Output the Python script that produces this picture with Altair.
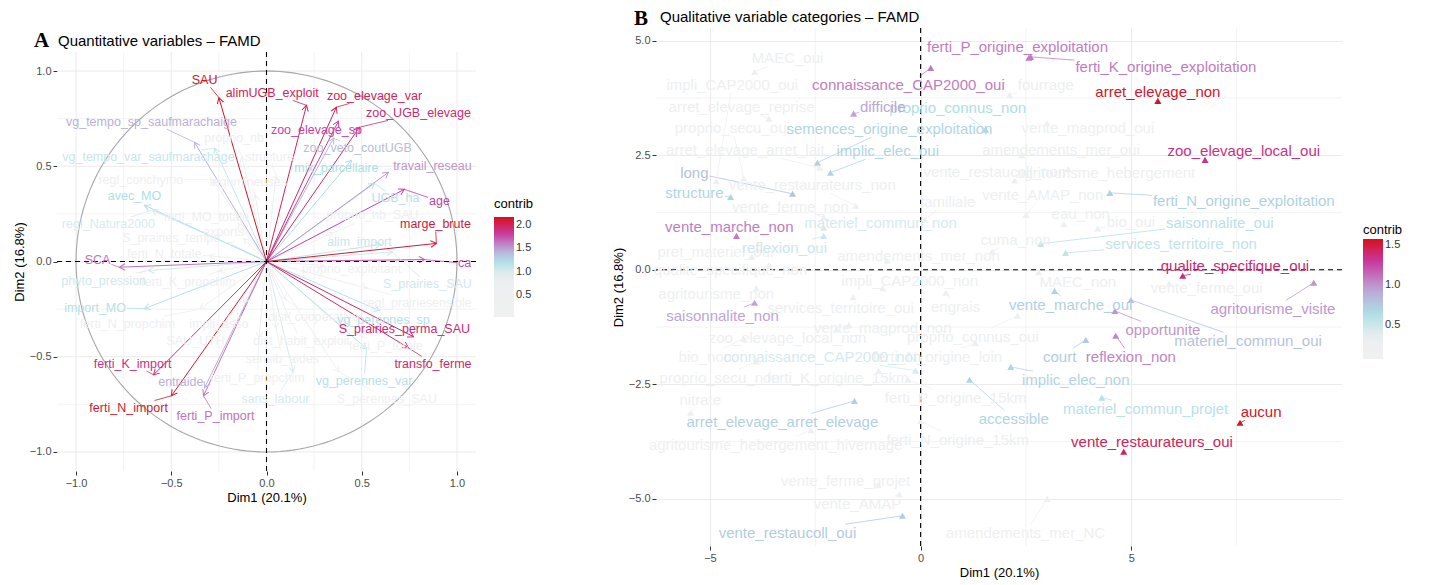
import math
import altair as alt
import pandas as pd

FONT = "Liberation Sans"

# ---------------- Panel A : quantitative variables ----------------
a_names = ["SAU", "alimUGB_exploit", "zoo_elevage_var", "zoo_UGB_elevage", "zoo_elevage_sp",
           "zoo_veto_coutUGB", "mix_parcellaire", "travail_reseau", "UGB_ha", "age",
           "marge_brute", "alim_import", "ca", "S_prairies_SAU", "regl_prairiesensible",
           "vg_perennes_sp", "S_prairies_perma_SAU", "transfo_ferme", "ferti_P_totale",
           "vg_perennes_var", "S_perennes_SAU", "sans_labour", "ferti_P_import", "entraide",
           "ferti_N_import", "ferti_K_import", "SCA", "phyto_pression", "import_MO", "avec_MO",
           "regl_Natura2000", "vg_tempo_sp_saufmarachaige", "vg_tempo_var_saufmarachage",
           "proprio_nb", "structure", "regl_conchymo", "legumineuses", "ferti_MO_totale",
           "S_prairies_tempo", "exports", "ferti_N_totale", "ferti_K_propchim", "ferti_N_propchim",
           "impli_asso", "SAU_UTH", "dist_habit_exploit", "dist_cooperative", "sensib_aides",
           "ferti_P_propchim", "proprio_exploitant", "proprio_nb_SAU"]
a_x = [-0.25, 0.21, 0.367, 0.488, 0.378, 0.352, 0.446, 0.64, 0.567, 0.724,
       0.892, 0.60, 0.83, 0.66, 0.53, 0.593, 0.772, 0.745, 0.42, 0.525,
       0.38, 0.14, -0.331, -0.325, -0.499, -0.593, -0.772, -0.62, -0.64, -0.64,
       -0.60, -0.378, -0.273, -0.13, 0.05, -0.28, -0.06, -0.15, -0.2, -0.12,
       -0.3, -0.25, -0.35, -0.12, -0.15, 0.12, 0.1, 0.05, -0.04, 0.3, 0.35]
a_y = [0.86, 0.82, 0.81, 0.705, 0.737, 0.647, 0.532, 0.468, 0.41, 0.379,
       0.095, 0.09, 0.01, 0.05, -0.14, -0.258, -0.395, -0.453, -0.36, -0.458,
       -0.58, -0.58, -0.705, -0.663, -0.705, -0.595, -0.03, -0.047, -0.247, 0.295,
       0.27, 0.626, 0.595, 0.55, 0.45, 0.43, 0.35, 0.2, 0.1, 0.12,
       0.03, -0.05, -0.25, -0.22, -0.3, -0.3, -0.2, -0.35, -0.4, -0.02, 0.15]
a_lx = [-0.325, 0.03, 0.567, 0.798, 0.262, 0.478, 0.367, 0.871, 0.677, 0.908,
        0.887, 0.488, 1.04, 0.845, 0.793, 0.614, 0.724, 0.874, 0.627, 0.512,
        0.632, 0.047, -0.268, -0.45, -0.724, -0.703, -0.887, -0.855, -0.90, -0.693,
        -0.83, -0.604, -0.62, -0.17, 0.016, -0.66, -0.095, -0.315, -0.5, -0.226,
        -0.537, -0.41, -0.73, -0.25, -0.373, 0.184, 0.247, 0.084, -0.047, 0.446, 0.556]
a_ly = [0.953, 0.884, 0.868, 0.779, 0.689, 0.595, 0.489, 0.5, 0.332, 0.316,
        0.195, 0.105, -0.01, -0.116, -0.216, -0.305, -0.353, -0.537, -0.442, -0.626,
        -0.721, -0.721, -0.81, -0.632, -0.768, -0.537, 0.01, -0.1, -0.242, 0.342,
        0.195, 0.732, 0.547, 0.647, 0.547, 0.43, 0.416, 0.232, 0.121, 0.153,
        0.042, -0.11, -0.326, -0.326, -0.416, -0.416, -0.289, -0.51, -0.61, -0.042, 0.242]
a_contrib = [2.15, 2.0, 2.0, 1.95, 1.8, 1.4, 1.25, 1.55, 1.2, 1.8,
             2.1, 1.1, 1.75, 1.05, 0.45, 1.2, 1.95, 1.95, 0.45, 1.2,
             0.35, 1.0, 1.65, 1.45, 2.1, 1.9, 1.65, 1.05, 1.2, 1.25,
             1.0, 1.45, 1.1, 0.85, 0.7, 0.5, 0.5, 0.5, 0.5, 0.45,
             0.5, 0.5, 0.5, 0.45, 0.45, 0.5, 0.45, 0.45, 0.45, 0.5, 0.5]

# ---------------- Panel B : qualitative categories ----------------
b_names = ["ferti_P_origine_exploitation", "ferti_K_origine_exploitation", "connaissance_CAP2000_oui",
           "arret_elevage_non", "difficile", "proprio_connus_non", "semences_origine_exploitation",
           "implic_elec_oui", "long", "structure", "zoo_elevage_local_oui", "ferti_N_origine_exploitation",
           "saisonnalite_oui", "services_territoire_non", "vente_marche_non", "reflexion_oui",
           "materiel_commun_non", "qualite_specifique_oui", "agritourisme_visite", "saisonnalite_non",
           "vente_marche_oui", "opportunite", "reflexion_non", "materiel_commun_oui", "court",
           "implic_elec_non", "accessible", "materiel_commun_projet", "aucun", "vente_restaurateurs_oui",
           "arret_elevage_arret_elevage", "vente_restaucoll_oui", "connaissance_CAP2000_non",
           "MAEC_oui", "impli_CAP2000_oui", "arret_elevage_reprise", "proprio_secu_oui",
           "arret_elevage_arret_lait", "vente_restaurateurs_non", "vente_ferme_non", "vente_restaucoll_non",
           "vente_AMAP_non", "familiale", "agritourisme_hebergement", "amendements_mer_oui",
           "vente_magprod_oui", "fourrage", "bio_oui", "eau_non", "cuma_non", "pret_materiel_oui",
           "qualite_specifique_non", "agritourisme_non", "services_territoire_oui", "amendements_mer_non",
           "engrais", "vente_magprod_non", "proprio_connus_oui", "zoo_elevage_local_non", "bio_non",
           "proprio_secu_non", "ferti_K_origine_15km", "ferti_P_origine_15km", "nitrate",
           "agritourisme_hebergement_hivernage", "ferti_N_origine_15km", "vente_ferme_projet",
           "vente_AMAP", "amendements_mer_NC", "vente_ferme_oui", "MAEC_non", "ferti_N_origine_loin",
           "impli_CAP2000_non"]
b_x = [2.57, 2.61, 0.24, 5.63, -1.59, 1.54, -2.45, -2.14, -3.04, -4.51, 6.75, 4.49,
       2.85, 3.44, -4.37, -2.3, -2.3, 6.22, 9.33, -3.94, 3.18, 4.61, 4.63, 4.99, 3.92,
       2.14, 1.16, 4.3, 7.58, 4.82, -1.57, -0.43, -0.12,
       -3.94, -4.85, -3.6, -4.2, -2.4, -1.54, -2.3, 2.23, 2.5, 0.1, 3.5, 2.4,
       3.0, 2.11, 4.2, 3.4, 1.7, -4.0, -3.6, -3.9, -1.6, -0.8,
       0.6, -1.7, 2.3, -2.0, -4.2, -3.9, -1.0, -0.3, -5.46,
       -2.6, 0.0, -1.0, -0.5, 3.0, 5.9, 2.8, 1.3, -0.9]
b_y = [4.63, 4.65, 4.41, 3.69, 3.41, 3.06, 2.34, 2.12, 1.66, 1.59, 2.4, 1.68,
       0.57, 0.37, 0.74, 0.74, 0.92, -0.13, -0.28, -0.72, -0.46, -0.9, -1.44, -0.66, -1.53,
       -2.12, -2.4, -2.79, -3.34, -3.97, -2.86, -5.37, -2.2,
       4.32, 1.94, 3.3, 2.0, 2.23, 1.4, 1.15, 1.95, 1.2, 1.09, 2.2, 2.5,
       3.2, 3.82, 0.9, 1.0, 0.4, 0.3, 0.1, -0.4, -0.6, 0.2,
       -0.5, -1.2, -1.0, -1.3, -1.5, -2.0, -2.2, -2.4, -3.12,
       -3.5, -3.3, -4.7, -4.9, -5.0, -0.3, -0.05, -1.6, -0.4]
b_lx = [2.30, 5.82, -0.29, 5.63, -0.9, 0.88, -0.74, -0.78, -5.37, -5.37, 7.67, 7.67,
        7.1, 6.18, -4.54, -3.23, -0.95, 7.46, 8.36, -4.7, 3.56, 5.75, 4.99, 7.77, 3.3,
        3.68, 2.21, 5.34, 8.08, 5.49, -3.28, -3.16, -2.33,
        -3.16, -4.47, -4.25, -4.47, -4.16, -2.57, -3.09, 1.76, 2.9, 0.64, 4.39, 3.33,
        3.97, 2.97, 4.99, 3.8, 2.26, -4.87, -4.51, -4.85, -1.9, -0.05,
        0.83, -0.9, 1.24, -3.16, -5.11, -4.77, -1.97, 0.83, -5.23,
        -3.44, 0.88, -1.78, -1.5, 2.49, 6.79, 3.73, 0.4, -0.26]
b_ly = [4.87, 4.43, 4.04, 3.89, 3.56, 3.54, 3.08, 2.6, 2.12, 1.68, 2.6, 1.51,
        1.03, 0.57, 0.94, 0.48, 1.03, 0.09, -0.85, -1.0, -0.76, -1.31, -1.9, -1.55, -1.9,
        -2.4, -3.25, -3.03, -3.1, -3.76, -3.32, -5.74, -1.9,
        4.63, 4.04, 3.56, 3.1, 2.62, 1.86, 1.38, 2.14, 1.64, 1.48, 2.12, 2.62,
        3.1, 4.04, 1.05, 1.22, 0.66, 0.39, 0.0, -0.52, -0.83, 0.31,
        -0.81, -1.27, -1.46, -1.48, -1.9, -2.36, -2.36, -2.79, -2.84,
        -3.82, -3.71, -4.61, -5.11, -5.74, -0.39, -0.26, -1.9, -0.24]
b_contrib = [1.08, 1.08, 1.08, 1.55, 0.95, 0.65, 0.7, 0.7, 0.8, 0.7, 1.35, 0.72,
             0.6, 0.55, 1.08, 0.5, 0.45, 1.4, 1.0, 0.95, 0.72, 1.0, 1.05, 0.8, 0.75,
             0.7, 0.7, 0.6, 1.55, 1.45, 0.72, 0.75, 0.45,
             0.25, 0.22, 0.2, 0.22, 0.25, 0.3, 0.3, 0.3, 0.3, 0.25, 0.25, 0.25,
             0.2, 0.3, 0.25, 0.2, 0.25, 0.2, 0.3, 0.2, 0.25, 0.2,
             0.25, 0.25, 0.25, 0.3, 0.2, 0.2, 0.25, 0.25, 0.2,
             0.2, 0.25, 0.2, 0.2, 0.2, 0.3, 0.3, 0.3, 0.3]

# axis ticks / grid positions
a_major = [-1.0, -0.5, 0.0, 0.5, 1.0]
a_minor = [-0.75, -0.25, 0.25, 0.75]
b_xmajor = [-5, 0, 5]
b_xminor = [-2.5, 2.5, 7.5]
b_ymajor = [-5.0, -2.5, 0.0, 2.5, 5.0]
b_yminor = [-3.75, -1.25, 1.25, 3.75]

# ---------------- layout constants ----------------
A_W, A_H, A_TOP = 419, 443, 24          # panel A drawn lower than panel B by A_TOP px
A_XD, A_YD = [-1.1, 1.1], [-1.1, 1.1]
B_W, B_H = 686, 518
B_XD, B_YD = [-6.28, 10.0], [-6.03, 5.28]
A_FS, B_FS = 12.5, 15

CW = {'i': .222, 'l': .222, 'j': .222, 'f': .278, 't': .278, 'r': .333, 'm': .833, 'w': .722,
      'c': .5, 's': .5, 'v': .5, 'x': .5, 'k': .5, 'y': .5, 'z': .5, 'A': .667, 'B': .667,
      'C': .722, 'D': .722, 'M': .833, 'N': .722, 'O': .778, 'P': .667, 'S': .667, 'U': .722,
      'G': .778, 'H': .722, 'K': .667, 'T': .611, 'E': .667, 'F': .611, 'V': .667, 'I': .278}


def text_w(s, fs):
    return sum(CW.get(c, 0.556) for c in s) * fs


def segments(names, px, py, lx, ly, contrib, fs, sx, sy):
    rows = []
    for n, x, y, a, b, c in zip(names, px, py, lx, ly, contrib):
        dx, dy = (x - a) * sx, (y - b) * sy
        hw, hh = text_w(n, fs) / 2 + 1, fs * 0.5 + 1
        if abs(dx) <= hw and abs(dy) <= hh:
            continue
        t = min(hw / abs(dx) if dx else 1e9, hh / abs(dy) if dy else 1e9)
        dist = (1 - t) * math.hypot(dx, dy)
        if dist < 5:
            continue
        rows.append({"x": x, "y": y, "ex": a + dx * t / sx, "ey": b + dy * t / sy, "contrib": c})
    return pd.DataFrame(rows)


dfA = pd.DataFrame({"name": a_names, "x": a_x, "y": a_y, "lx": a_lx, "ly": a_ly,
                    "contrib": a_contrib}).sort_values("contrib")
dfB = pd.DataFrame({"name": b_names, "x": b_x, "y": b_y, "lx": b_lx, "ly": b_ly,
                    "contrib": b_contrib}).sort_values("contrib")
segA = segments(a_names, a_x, a_y, a_lx, a_ly, a_contrib, A_FS,
                A_W / (A_XD[1] - A_XD[0]), (A_H - A_TOP) / (A_YD[1] - A_YD[0]))
segB = segments(b_names, b_x, b_y, b_lx, b_ly, b_contrib, B_FS,
                B_W / (B_XD[1] - B_XD[0]), B_H / (B_YD[1] - B_YD[0]))

RANGE = ["#f0f0f0", "#eceff0", "#acdfe5", "#bda4d6", "#c8389e", "#d7101a"]
A_DOM = [0.04, 0.9, 1.25, 1.5, 1.82, 2.17]
B_DOM = [0.08, 0.35, 0.65, 0.95, 1.3, 1.58]
# stroke scales: same colours, domain nudged by a negligible amount so that Vega-Lite
# keeps the (hidden) stroke legend separate from the fill legend
A_DOM_S = [v + 1e-6 for v in A_DOM]
B_DOM_S = [v + 1e-6 for v in B_DOM]


def legA():
    return alt.Legend(type="gradient", title="contrib", orient="none",
                      legendX=437, legendY=170, direction="vertical",
                      gradientLength=100, gradientThickness=20,
                      values=[0.5, 1.0, 1.5, 2.0], format=".1f")


def legB():
    return alt.Legend(type="gradient", title="contrib", orient="none",
                      legendX=707, legendY=196, direction="vertical",
                      gradientLength=120, gradientThickness=20, titlePadding=2,
                      values=[0.5, 1.0, 1.5], format=".1f")


def fillA():
    return alt.Fill("contrib:Q", scale=alt.Scale(domain=A_DOM, range=RANGE, interpolate="rgb"),
                    legend=legA())


def strokeA():
    return alt.Stroke("contrib:Q", scale=alt.Scale(domain=A_DOM_S, range=RANGE, interpolate="rgb"),
                      legend=None)


def fillB():
    return alt.Fill("contrib:Q", scale=alt.Scale(domain=B_DOM, range=RANGE, interpolate="rgb"),
                    legend=legB())


def strokeB():
    return alt.Stroke("contrib:Q", scale=alt.Scale(domain=B_DOM_S, range=RANGE, interpolate="rgb"),
                      legend=None)


def XA(f):
    return alt.X(f, scale=alt.Scale(domain=A_XD, nice=False, zero=False),
                 axis=alt.Axis(values=a_major, format=".1f", title="Dim1 (20.1%)", grid=False))


def YA(f):
    return alt.Y(f, scale=alt.Scale(domain=A_YD, nice=False, zero=False, range=[A_H, A_TOP]),
                 axis=alt.Axis(values=a_major, format=".1f", title="Dim2 (16.8%)", grid=False))


def XB(f):
    return alt.X(f, scale=alt.Scale(domain=B_XD, nice=False, zero=False),
                 axis=alt.Axis(values=b_xmajor, format="d", title="Dim1 (20.1%)"))


def YB(f):
    return alt.Y(f, scale=alt.Scale(domain=B_YD, nice=False, zero=False),
                 axis=alt.Axis(values=b_ymajor, format=".1f", title="Dim2 (16.8%)"))


GRID = "#ebebeb"

# ---------- Panel A layers ----------
gridA_v = pd.DataFrame({"v": a_major + a_minor, "w": [1.0] * 5 + [0.6] * 4})
gridA_v["lo"], gridA_v["hi"] = A_YD[0], A_YD[1]
gridA_h = pd.DataFrame({"v": a_major + a_minor, "w": [1.0] * 5 + [0.6] * 4})
gridA_h["lo"], gridA_h["hi"] = A_XD[0], A_XD[1]
gA_v = alt.Chart(gridA_v).mark_rule(color=GRID).encode(
    x=XA("v:Q"), y=YA("lo:Q"), y2="hi:Q", strokeWidth=alt.StrokeWidth("w:Q", scale=None))
gA_h = alt.Chart(gridA_h).mark_rule(color=GRID).encode(
    y=YA("v:Q"), x=XA("lo:Q"), x2="hi:Q", strokeWidth=alt.StrokeWidth("w:Q", scale=None))
circle = (alt.Chart(alt.sequence(0, 362, 2, as_="deg"))
          .transform_calculate(cx="cos(datum.deg*PI/180)", cy="sin(datum.deg*PI/180)")
          .mark_line(color="#a6a6a6", strokeWidth=1.1)
          .encode(x=XA("cx:Q"), y=YA("cy:Q"), order="deg:Q"))
zeroA = pd.DataFrame({"v": [0.0], "lo": [A_XD[0]], "hi": [A_XD[1]]})
dashA_v = alt.Chart(zeroA).mark_rule(color="black", strokeDash=[5, 4], strokeWidth=1.1).encode(
    x=XA("v:Q"), y=YA("lo:Q"), y2="hi:Q")
dashA_h = alt.Chart(zeroA).mark_rule(color="black", strokeDash=[5, 4], strokeWidth=1.1).encode(
    y=YA("v:Q"), x=XA("lo:Q"), x2="hi:Q")
arrows = (alt.Chart(dfA).transform_calculate(x0="0", y0="0")
          .mark_rule(strokeWidth=1)
          .encode(x=XA("x0:Q"), y=YA("y0:Q"), x2="x:Q", y2="y:Q", stroke=strokeA()))
heads = (alt.Chart(dfA)
         .transform_calculate(ang="(atan2(datum.x, datum.y)*180/PI + 360) % 360")
         .mark_point(shape="M -0.5 0.866 L 0 0 L 0.5 0.866", filled=False, size=170,
                     strokeWidth=1, opacity=1)
         .encode(x=XA("x:Q"), y=YA("y:Q"), angle=alt.Angle("ang:Q", scale=None), stroke=strokeA()))
segsA = (alt.Chart(segA).mark_rule(strokeWidth=0.8)
         .encode(x=XA("x:Q"), y=YA("y:Q"), x2="ex:Q", y2="ey:Q", stroke=strokeA()))
labelsA = (alt.Chart(dfA).mark_text(font=FONT, fontSize=A_FS, align="center", baseline="middle")
           .encode(x=XA("lx:Q"), y=YA("ly:Q"), text="name:N", fill=fillA()))
letterA = (alt.Chart(pd.DataFrame({"t": ["A"]}))
           .mark_text(font="Liberation Serif", fontWeight="bold", fontSize=21, align="left",
                      baseline="alphabetic", color="black")
           .encode(text="t:N", x=alt.value(-23), y=alt.value(A_TOP - 5)))
titleA = (alt.Chart(pd.DataFrame({"t": ["Quantitative variables – FAMD"]}))
          .mark_text(font=FONT, fontSize=15, align="left", baseline="alphabetic", color="black")
          .encode(text="t:N", x=alt.value(1), y=alt.value(A_TOP - 6)))

panelA = alt.layer(gA_v, gA_h, circle, arrows, heads, segsA, dashA_v, dashA_h,
                   labelsA, letterA, titleA).properties(width=A_W, height=A_H)

# ---------- Panel B layers ----------
minorB_v = alt.Chart(pd.DataFrame({"v": b_xminor})).mark_rule(color=GRID, strokeWidth=0.6).encode(x=XB("v:Q"))
minorB_h = alt.Chart(pd.DataFrame({"v": b_yminor})).mark_rule(color=GRID, strokeWidth=0.6).encode(y=YB("v:Q"))
zeroB = pd.DataFrame({"v": [0.0]})
dashB_v = alt.Chart(zeroB).mark_rule(color="black", strokeDash=[5, 4], strokeWidth=1.1).encode(x=XB("v:Q"))
dashB_h = alt.Chart(zeroB).mark_rule(color="black", strokeDash=[5, 4], strokeWidth=1.1).encode(y=YB("v:Q"))
segsB = (alt.Chart(segB).mark_rule(strokeWidth=0.8)
         .encode(x=XB("x:Q"), y=YB("y:Q"), x2="ex:Q", y2="ey:Q", stroke=strokeB()))
ptsB = (alt.Chart(dfB).mark_point(shape="triangle-up", filled=True, size=50, opacity=1)
        .encode(x=XB("x:Q"), y=YB("y:Q"), fill=fillB()))
labelsB = (alt.Chart(dfB).mark_text(font=FONT, fontSize=B_FS, align="center", baseline="middle")
           .encode(x=XB("lx:Q"), y=YB("ly:Q"), text="name:N", fill=fillB()))
letterB = (alt.Chart(pd.DataFrame({"t": ["B"]}))
           .mark_text(font="Liberation Serif", fontWeight="bold", fontSize=21, align="left",
                      baseline="alphabetic", color="black")
           .encode(text="t:N", x=alt.value(-22), y=alt.value(-3)))
titleB = (alt.Chart(pd.DataFrame({"t": ["Qualitative variable categories – FAMD"]}))
          .mark_text(font=FONT, fontSize=15, align="left", baseline="alphabetic", color="black")
          .encode(text="t:N", x=alt.value(4), y=alt.value(-6)))

panelB = alt.layer(minorB_v, minorB_h, segsB, ptsB, dashB_v, dashB_h, labelsB,
                   letterB, titleB).properties(width=B_W, height=B_H)

chart = (alt.hconcat(panelA, panelB, spacing=78)
         .resolve_scale(fill="independent", stroke="independent")
         .resolve_legend(fill="independent")
         .properties(padding={"left": 5, "top": 0, "right": 5, "bottom": 5})
         .configure_view(stroke=None)
         .configure_axis(labelFont=FONT, titleFont=FONT, labelFontSize=11, titleFontSize=13,
                         labelColor="#4d4d4d", titleColor="black", titleFontWeight="normal",
                         tickColor="#333333", tickSize=4, labelPadding=2, titlePadding=3,
                         domain=False, gridColor=GRID, gridWidth=1)
         .configure_legend(titleFont=FONT, labelFont=FONT, titleFontSize=13, labelFontSize=11,
                           titleFontWeight="normal", labelColor="#333333", titleColor="black",
                           gradientStrokeWidth=0, titlePadding=6, labelOffset=5))

chart.save("out.html", embed_options={"renderer": "svg", "actions": False})
